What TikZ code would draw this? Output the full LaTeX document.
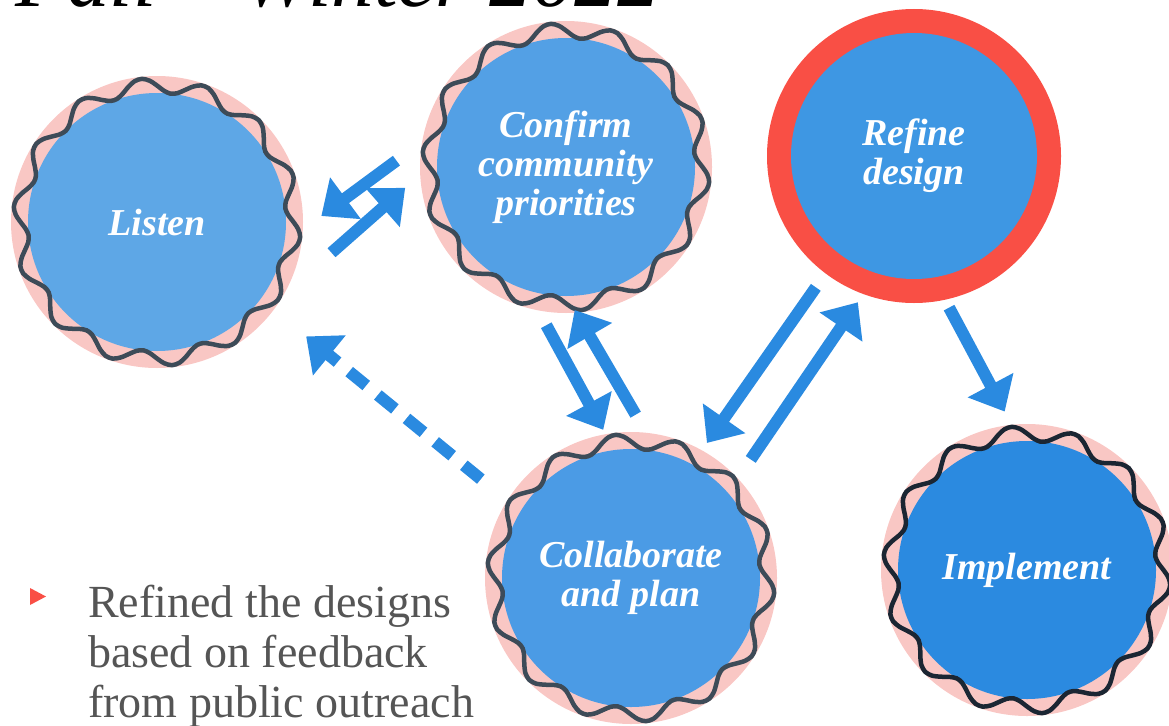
\documentclass[tikz,border=0pt]{standalone}
\usepackage{fontspec}
\usetikzlibrary{arrows.meta}
\newfontfamily\stagefont{Liberation Serif}
\newfontfamily\notefont{Liberation Serif}
\definecolor{pinkring}{RGB}{249,199,196}
\definecolor{wavegray}{RGB}{61,75,88}
\definecolor{wavedark}{RGB}{27,38,51}
\definecolor{listenblue}{RGB}{94,167,230}
\definecolor{confirmblue}{RGB}{83,160,229}
\definecolor{refineblue}{RGB}{62,151,227}
\definecolor{collabblue}{RGB}{75,155,229}
\definecolor{implblue}{RGB}{43,138,224}
\definecolor{arrowblue}{RGB}{42,138,224}
\definecolor{ringred}{RGB}{249,79,69}
\definecolor{notegray}{RGB}{85,85,85}
\pgfdeclarelayer{back}
\pgfsetlayers{back,main}
\begin{document}
\begin{tikzpicture}[x=1pt,y=-1pt]
  \tikzstyle{stage}=[circle,minimum size=292pt,inner sep=0pt,outer sep=0pt,text=white,align=center,
      font=\stagefont\bfseries\itshape\fontsize{38}{39}\selectfont]
  \tikzstyle{edge}=[draw,arrowblue,line width=12pt,-{Triangle[length=30pt,width=50pt]}]
  \tikzstyle{loose}=[edge,dash pattern=on 22pt off 15pt]
  \tikzstyle{note}=[inner sep=0pt,text=notegray,align=left,font=\notefont\fontsize{46}{50}\selectfont]
  \useasboundingbox (0,0) rectangle (1169,725);
  \clip (0,0) rectangle (1169,725);
  \node[inner sep=0pt,anchor=base west,font=\notefont\itshape\fontsize{85}{85}\selectfont] (title) at (15,7) {Fall – Winter 2022};
  \node[stage] (listen) at (157,222) {Listen};
  \node[stage] (confirm) at (566,167) {Confirm\\community\\priorities};
  \node[stage] (refine) at (914,156) {Refine\\design};
  \node[stage] (collab) at (631,578) {Collaborate\\and plan};
  \node[stage] (implement) at (1027,570) {Implement};
  \begin{pgfonlayer}{back}
    \foreach \n/\c/\w in {listen/listenblue/wavegray,confirm/confirmblue/wavegray,
        collab/collabblue/wavegray,implement/implblue/wavedark}{
      \fill[pinkring] (\n) circle (146);
      \fill[\c] (\n) circle (129);
      \draw[\w,line width=4.5pt,shift={(\n)}]
        plot[smooth cycle,domain=0:357,samples=120] (\x:{136.5+7.5*sin(14*\x)});
    }
    \fill[ringred] (refine) circle (147);
    \fill[refineblue] (refine) circle (123);
  \end{pgfonlayer}
  \path (confirm.170) edge[edge,shorten <=32pt,shorten >=23pt] (listen.-3);
  \path (listen.-30) edge[edge,shorten <=64pt,shorten >=20pt] (confirm.183);
  \path (collab.148.5) edge[loose,shorten <=34pt,shorten >=42pt] (listen.-37.4);
  \path (confirm.-101.5) edge[edge,shorten <=17pt,shorten >=5pt] (collab.100.5);
  \path (collab.84.3) edge[edge,shorten <=21pt,shorten >=-3pt] (confirm.-86.6);
  \path (refine.-127.4) edge[edge,shorten <=18pt,shorten >=9pt] (collab.61);
  \path (collab.43.6) edge[edge,shorten <=23pt,shorten >=11pt] (refine.-110.3);
  \path (refine.-78.8) edge[edge,shorten <=10pt,shorten >=15pt] (implement.96.7);
  \fill[ringred] (30,588) -- (46,596.5) -- (30,605) -- cycle;
  \node[note,anchor=base west] (note) at (88,717) {Refined the designs\\based on feedback\\from public outreach};
\end{tikzpicture}
\end{document}
